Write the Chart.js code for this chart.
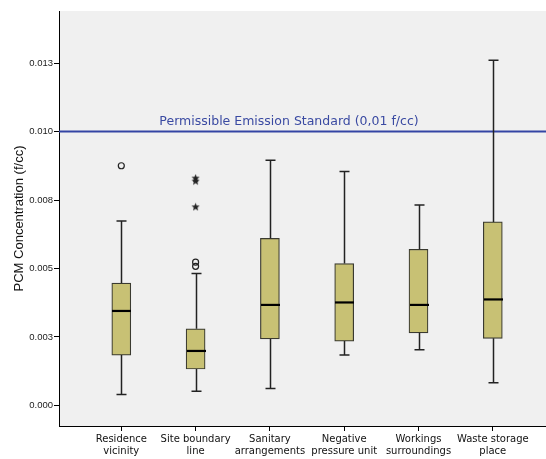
<!DOCTYPE html>
<html>
<head>
<meta charset="utf-8">
<script src="https://cdn.jsdelivr.net/npm/chart.js@4.4.0/dist/chart.umd.min.js"></script>
<style>
  body { margin: 0; background: #fff; }
</style>
</head>
<body>
<canvas id="chart" width="546" height="459"></canvas>
<script>
// box plot values (f/cc)
const categories = [
  ['Residence', 'vicinity'],
  ['Site boundary', 'line'],
  ['Sanitary', 'arrangements'],
  ['Negative', 'pressure unit'],
  ['Workings', 'surroundings'],
  ['Waste storage', 'place']
];
const whiskerLow  = [0.00040, 0.00052, 0.00062, 0.00184, 0.00203, 0.00083];
const q1          = [0.00184, 0.00133, 0.00243, 0.00235, 0.00265, 0.00245];
const median      = [0.00345, 0.00199, 0.00367, 0.00376, 0.00367, 0.00387];
const q3          = [0.00447, 0.00280, 0.00610, 0.00518, 0.00570, 0.00670];
const whiskerHigh = [0.00673, 0.00482, 0.00895, 0.00854, 0.00732, 0.01260];

// outliers: category number (1-based) and value
const circleCat = [1, 2, 2];
const circleVal = [0.00875, 0.00523, 0.00508];
const starCat = [2, 2, 2];
const starVal = [0.00830, 0.00819, 0.00725];

const limitValue = 0.01;
const limitLabel = 'Permissible Emission Standard (0,01 f/cc)';

const yTickValues = [0, 0.0025, 0.005, 0.0075, 0.01, 0.0125];
const yTickLabels = ['0.000', '0.003', '0.005', '0.008', '0.010', '0.013'];

// small filled star for extreme values
const star = document.createElement('canvas');
star.width = 9; star.height = 9;
(function () {
  const c = star.getContext('2d');
  c.fillStyle = '#222';
  c.beginPath();
  for (let i = 0; i < 10; i++) {
    const r = i % 2 === 0 ? 4.3 : 1.9;
    const a = -Math.PI / 2 + i * Math.PI / 5;
    const px = 4.5 + r * Math.cos(a), py = 4.7 + r * Math.sin(a);
    i === 0 ? c.moveTo(px, py) : c.lineTo(px, py);
  }
  c.closePath();
  c.fill();
})();

const boxPlugin = {
  id: 'boxParts',
  beforeDraw(chart) {
    const {ctx, chartArea: a} = chart;
    ctx.save();
    ctx.fillStyle = '#f0f0f0';
    ctx.fillRect(a.left, a.top, a.right - a.left, a.bottom - a.top);
    ctx.restore();
  },
  beforeDatasetsDraw(chart) {
    const {ctx, chartArea: a, scales: {y}} = chart;
    const ly = y.getPixelForValue(limitValue);
    ctx.save();
    ctx.strokeStyle = '#3445a4';
    ctx.lineWidth = 2;
    ctx.beginPath();
    ctx.moveTo(a.left, ly);
    ctx.lineTo(a.right, ly);
    ctx.stroke();
    ctx.fillStyle = '#3a4aa2';
    ctx.font = '12.5px "DejaVu Sans"';
    ctx.textAlign = 'center';
    ctx.textBaseline = 'alphabetic';
    ctx.fillText(limitLabel, 289, ly - 7);
    ctx.restore();
  },
  afterDatasetsDraw(chart) {
    const {ctx, scales: {x, y}} = chart;
    ctx.save();
    ctx.strokeStyle = '#222';
    categories.forEach((c, i) => {
      const cx = Math.round(x.getPixelForValue(i + 1)) + 0.5;
      const yHi = y.getPixelForValue(whiskerHigh[i]);
      const yLo = y.getPixelForValue(whiskerLow[i]);
      ctx.lineWidth = 1.5;
      ctx.beginPath();
      ctx.moveTo(cx, y.getPixelForValue(q3[i]));
      ctx.lineTo(cx, yHi);
      ctx.moveTo(cx, y.getPixelForValue(q1[i]));
      ctx.lineTo(cx, yLo);
      ctx.moveTo(cx - 5, yHi);
      ctx.lineTo(cx + 5, yHi);
      ctx.moveTo(cx - 5, yLo);
      ctx.lineTo(cx + 5, yLo);
      ctx.stroke();
      ctx.lineWidth = 2.2;
      ctx.strokeStyle = '#000';
      const ym = y.getPixelForValue(median[i]);
      ctx.beginPath();
      ctx.moveTo(cx - 9.5, ym);
      ctx.lineTo(cx + 9.5, ym);
      ctx.stroke();
      ctx.strokeStyle = '#222';
    });
    ctx.restore();
  }
};

new Chart(document.getElementById('chart'), {
  type: 'bar',
  data: {
    datasets: [{
      type: 'bar',
      data: categories.map((c, i) => ({x: i + 1, y: [q1[i], q3[i]]})),
      backgroundColor: '#c8c174',
      borderColor: '#3a3a30',
      borderWidth: 1.2,
      borderSkipped: false,
      barThickness: 19
    }, {
      type: 'scatter',
      data: circleCat.map((c, i) => ({x: c, y: circleVal[i]})),
      pointStyle: 'circle',
      radius: 3,
      borderWidth: 1.2,
      borderColor: '#222',
      backgroundColor: 'rgba(0,0,0,0)'
    }, {
      type: 'scatter',
      data: starCat.map((c, i) => ({x: c, y: starVal[i]})),
      pointStyle: star,
      radius: 4
    }]
  },
  options: {
    responsive: false,
    animation: false,
    devicePixelRatio: 1,
    layout: { autoPadding: false, padding: { top: 11, left: 0, right: 0, bottom: 0 } },
    plugins: { legend: { display: false }, tooltip: { enabled: false } },
    scales: {
      x: {
        type: 'linear',
        offset: false,
        min: 0.1615,
        max: 6.716,
        afterBuildTicks: s => { s.ticks = categories.map((c, i) => ({value: i + 1})); },
        afterFit: s => { s.height = 33; s.paddingRight = 0; s.paddingLeft = 0; },
        ticks: {
          callback: v => categories[Math.round(v) - 1],
          font: { family: '"DejaVu Sans"', size: 10 },
          color: '#111',
          padding: 2,
          maxRotation: 0,
          autoSkip: false
        },
        grid: { offset: false, drawOnChartArea: false, tickLength: 5, color: '#000' },
        border: { display: true, color: '#000', width: 1 }
      },
      y: {
        min: -0.00075,
        max: 0.0144,
        afterBuildTicks: s => { s.ticks = yTickValues.map(v => ({value: v})); },
        afterFit: s => { s.width = 59; },
        ticks: {
          callback: v => yTickLabels[yTickValues.indexOf(v)],
          font: { family: '"Liberation Sans"', size: 9.5 },
          color: '#222',
          padding: 1
        },
        grid: { drawOnChartArea: false, tickLength: 5, color: '#000' },
        border: { display: true, color: '#000', width: 1 },
        title: {
          display: true,
          text: 'PCM Concentration (f/cc)',
          font: { family: '"Liberation Sans"', size: 13 },
          color: '#111',
          padding: { top: 12, bottom: 0 }
        }
      }
    }
  },
  plugins: [boxPlugin]
});
</script>
</body>
</html>
